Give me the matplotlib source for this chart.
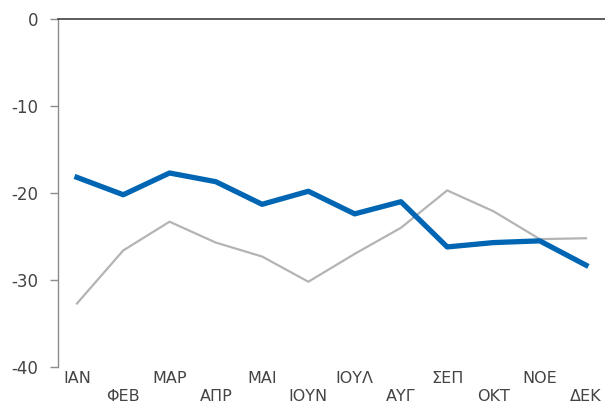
import matplotlib.pyplot as plt

# data
months = ['ΙΑΝ', 'ΦΕΒ', 'ΜΑΡ', 'ΑΠΡ', 'ΜΑΙ', 'ΙΟΥΝ', 'ΙΟΥΛ', 'ΑΥΓ', 'ΣΕΠ', 'ΟΚΤ', 'ΝΟΕ', 'ΔΕΚ']
series_blue = [-18.2, -20.2, -17.7, -18.7, -21.3, -19.8, -22.4, -21.0, -26.2, -25.7, -25.5, -28.3]
series_grey = [-32.7, -26.6, -23.3, -25.7, -27.3, -30.2, -27.0, -24.0, -19.7, -22.1, -25.3, -25.2]
y_ticks = [0, -10, -20, -30, -40]

fig = plt.figure(figsize=(6.05, 4.08), dpi=100)
ax = fig.add_axes([58 / 605, 1 - 367 / 408, 1 - 58 / 605, 348 / 408])

x = list(range(len(months)))
ax.plot(x, series_grey, color='#b4b4b4', linewidth=1.6, zorder=2)
ax.plot(x, series_blue, color='#0066b3', linewidth=3.8, zorder=3)

ax.set_xlim(-0.41, 11.41)
ax.set_ylim(-40, 0)
ax.set_yticks(y_ticks)
ax.set_yticklabels([str(v) for v in y_ticks])

# spines: dark line at zero on top, grey left axis
for s in ['right', 'bottom']:
    ax.spines[s].set_visible(False)
ax.spines['top'].set_color('#404040')
ax.spines['top'].set_linewidth(1.2)
ax.spines['left'].set_color('#8c8c8c')
ax.spines['left'].set_linewidth(1.0)

ax.tick_params(axis='y', length=6, width=1.0, color='#8c8c8c', pad=8,
               labelsize=12, labelcolor='#444444')
ax.set_xticks(x)
ax.set_xticklabels(months)
ax.tick_params(axis='x', length=0, labelsize=11.5, labelcolor='#444444')
# staggered month labels
for i, t in enumerate(ax.xaxis.get_major_ticks()):
    t.set_pad(3 if i % 2 == 0 else 16)

plt.savefig('out.png', dpi=100)
